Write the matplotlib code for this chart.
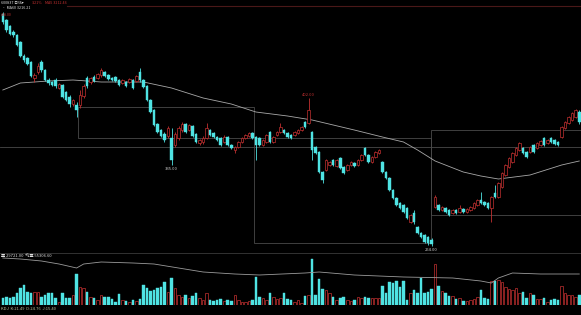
import matplotlib
matplotlib.use('Agg')
import matplotlib.pyplot as plt
from matplotlib.patches import Rectangle
from matplotlib.lines import Line2D

plt.rcParams['font.family'] = ['Noto Sans CJK SC', 'DejaVu Sans']

# ---------------- data ----------------
opens = [486,480,474,468,465,458,444,442,438,422,
         428,438,430,420,418,420,412,415,408,403,
         396,395,395,404,422,418,423,422,425,428,
         425,422,423,420,417,418,418,420,419,428,420,
         414,400,390,376,370,366,364,362,355,362,
         370,376,370,374,366,357,358,362,370,367,
         363,362,358,363,355,350,353,358,362,364,
         367,363,362,355,358,368,358,365,368,370,
         367,365,365,367,370,378,377,368,353,348,
         328,330,335,340,334,342,333,330,335,337,
         335,340,352,345,338,343,347,338,328,322,
         310,302,297,295,292,278,287,273,267,265,
         263,260,293,295,290,292,290,287,290,
         288,291,288,290,292,295,300,298,297,292,
         307,303,313,325,333,338,345,350,352,348,
         348,355,352,355,362,357,362,360,358,363,
         372,377,380,383,388]
closes = [478,470,466,465,455,444,440,436,424,425,
          434,430,420,417,415,414,416,403,400,396,
          400,390,405,414,414,422,419,426,430,424,
          421,420,419,415,420,414,421,412,424,420,413,
          400,388,375,368,364,360,372,340,366,372,
          376,368,375,364,358,360,362,372,365,363,
          360,355,363,355,352,353,358,362,365,367,
          362,355,355,360,365,358,363,368,373,367,
          363,362,368,370,373,373,390,350,347,328,
          320,340,338,335,340,332,327,335,338,334,
          340,345,345,338,343,348,350,328,322,310,
          302,295,292,288,282,285,278,267,263,258,
          257,256,303,290,293,288,285,290,287,
          292,288,291,293,297,300,297,295,292,303,
          303,317,327,335,342,347,352,357,347,343,
          353,348,357,359,355,360,358,356,355,373,
          378,383,387,390,378]
highs = [488,481,475,470,466,459,446,443,439,427,
         437,440,431,422,419,422,417,416,409,405,
         401,398,410,416,424,423,425,427,432,429,
         426,423,424,421,421,419,422,421,425,432,421,
         415,401,391,377,371,368,374,372,368,374,
         378,377,376,375,367,361,364,377,371,368,
         364,363,365,364,356,354,359,363,366,368,
         368,364,363,361,366,369,364,369,377,371,
         368,366,369,371,374,379,402,369,354,349,
         329,341,339,341,341,343,334,336,339,338,
         341,346,353,346,344,349,351,339,329,323,
         311,303,298,296,293,286,290,274,268,266,
         264,262,305,296,294,293,291,291,291,
         295,292,292,294,298,301,308,299,298,304,
         315,318,328,336,343,348,353,358,353,349,
         354,356,358,360,363,361,363,361,359,374,
         379,384,388,391,390]
lows = [476,468,465,463,454,443,438,435,423,418,
        426,428,419,415,414,412,411,402,399,393,
        394,383,392,402,412,416,418,421,423,423,
        420,419,418,414,416,413,417,411,418,418,412,
        399,387,374,367,363,358,362,335,353,360,
        368,367,369,363,357,355,356,361,364,362,
        359,354,357,354,351,347,352,357,361,363,
        361,340,354,354,357,357,357,364,367,366,
        362,361,364,366,369,372,376,340,346,327,
        317,329,334,334,333,331,326,329,334,333,
        334,339,344,337,337,342,346,327,321,309,
        301,294,291,287,281,277,276,266,262,257,
        255,254,292,289,289,287,284,286,286,
        287,287,287,289,291,294,296,294,291,278,
        302,302,312,324,332,337,344,349,346,342,
        347,347,351,354,354,356,357,355,354,362,
        371,376,379,382,376]
volumes = [700,800,700,800,1200,1700,2000,1300,1200,1300,
           1300,800,1000,1200,1200,700,300,1200,700,700,
           1000,3100,1800,1700,1300,800,700,500,1000,800,
           800,600,300,1100,500,400,300,500,400,600,2000,
           1700,1400,1500,1700,1800,2300,1300,2700,1700,1000,
           800,1000,700,900,1200,
           700,500,1200,500,400,500,600,400,500,400,
           1000,500,300,300,400,500,2800,800,700,500,
           1200,800,600,700,1200,600,500,300,500,200,
           900,1000,4600,1000,2600,1600,1500,1200,800,500,
           700,800,500,400,500,800,700,800,700,700,
           700,700,
           1900,1200,2300,2200,2400,1800,2400,500,1200,1500,
           1200,2700,1200,1300,1600,4100,1900,1400,1200,900,
           900,600,700,400,400,500,600,800,1500,
           700,600,2400,2400,2500,2300,1800,1600,1500,1700,
           1200,1300,700,1200,1000,600,600,700,300,500,
           600,500,1900,1200,1000,1000,800,1000]

ma_idx  = [0, 5, 13, 20, 28, 40, 48, 57, 65, 72, 81, 88, 100, 108, 114, 118, 123, 131, 136, 141, 150, 159, 164]
ma_vals = [410, 417, 419, 420, 418, 418, 412, 402, 396, 388, 384, 380, 370, 363, 358, 350, 339, 328, 324, 321, 325, 335, 339]

volma_idx  = [0, 5, 11, 16, 21, 23, 28, 37, 43, 50, 57, 66, 73, 86, 90, 100, 114, 128, 136, 139, 141, 145, 153, 164]
volma_vals = [4700, 4600, 4400, 4100, 3700, 4100, 4300, 4200, 4100, 3700, 3300, 3100, 3000, 3200, 3300, 3000, 2800, 2700, 2400, 2200, 2700, 3200, 3100, 3100]

# consolidation boxes: (start index, end index, low price, high price)
boxes = [(21.4, 71.5, 362, 393), (71.5, 121.8, 257, 362), (121.8, 164.4, 285, 370)]
support_level = 353
label_idx_high = 87
label_idx_lows = [48, 122]

# ---------------- styling ----------------
UP = '#c23030'
DOWN = '#4fe3e3'
BG = 'black'
W, H = 581, 315

fig = plt.figure(figsize=(W / 100, H / 100), dpi=100, facecolor=BG)

def fy(py):
    return 1 - py / H

ax = fig.add_axes([0, fy(252), 1, (252 - 6) / H], facecolor=BG)
axv = fig.add_axes([0, fy(305), 1, (305 - 253) / H], facecolor=BG)
for a in (ax, axv):
    a.set_xlim(-0.8, 164.5)
    a.set_xticks([]); a.set_yticks([])
    for s in a.spines.values():
        s.set_visible(False)
ax.set_ylim(248, 494)
axv.set_ylim(0, 5200)

n = len(opens)
xs = list(range(n))
cols = [UP if closes[i] >= opens[i] else DOWN for i in xs]

# boxes and support line
for (x0, x1, lo, hi) in boxes:
    ax.add_patch(Rectangle((x0, lo), x1 - x0, hi - lo, fill=False,
                           edgecolor='#4a4a4a', lw=0.6, zorder=1))
ax.axhline(support_level, color='#4a4a4a', lw=0.6, zorder=1)

# moving average
ax.plot(ma_idx, ma_vals, color='#a8a8a8', lw=0.6, zorder=2)

# candles
ax.vlines(xs, lows, highs, colors=cols, lw=0.6, zorder=3)
for i in xs:
    lo = min(opens[i], closes[i])
    h = max(abs(closes[i] - opens[i]), 0.8)
    if cols[i] == UP:
        ax.add_patch(Rectangle((i - 0.36, lo), 0.72, h, facecolor=BG,
                               edgecolor=UP, lw=0.5, zorder=4))
    else:
        ax.add_patch(Rectangle((i - 0.36, lo), 0.72, h, facecolor=DOWN,
                               edgecolor=DOWN, lw=0.3, zorder=4))

# extreme labels
ax.text(label_idx_high, highs[label_idx_high] + 1.5, f"{highs[label_idx_high]:.2f}",
        color=UP, fontsize=3, ha='center', va='bottom', zorder=5)
for li in label_idx_lows:
    ax.text(li, lows[li] - 1.5, f"{lows[li]:.2f}", color='#cfcfcf', fontsize=3,
            ha='center', va='top', zorder=5)
ax.text(-0.6, highs[0] - 0.5, f"{highs[0]:.2f}", color=UP, fontsize=2.6,
        ha='left', va='top', zorder=5)

# volume
for i in xs:
    if cols[i] == UP:
        axv.add_patch(Rectangle((i - 0.36, 0), 0.72, volumes[i], facecolor=BG,
                                edgecolor=UP, lw=0.5))
    else:
        axv.add_patch(Rectangle((i - 0.36, 0), 0.72, volumes[i], facecolor=DOWN,
                                edgecolor=DOWN, lw=0.3))
axv.plot(volma_idx, volma_vals, color='#9a9a9a', lw=0.6)

# frame lines
fig.add_artist(Line2D([67 / W, 1], [fy(5.5), fy(5.5)], color='#4a1818', lw=0.8))
fig.add_artist(Line2D([0, 1], [fy(253), fy(253)], color='#3a3a3a', lw=0.6))

# header / footer texts
fig.text(1 / W, fy(2.6), "600837 日线▾", color='#e0e0e0', fontsize=2.7, va='center')
fig.text(32 / W, fy(2.6), "3.21%", color=UP, fontsize=2.7, va='center')
fig.text(45 / W, fy(2.6), "MA5 3212.46", color=UP, fontsize=2.7, va='center')
fig.text(2 / W, fy(7.6), "• MA60 3216.21", color='#e0e0e0', fontsize=2.7, va='center')
fig.text(1 / W, fy(256), "量 29721.00  均量 55306.60", color='#e0e0e0', fontsize=3.0, va='center')
fig.text(1 / W, fy(309), "KDJ  K:21.49  D:24.76  J:15.40", color='#bdbd9a', fontsize=3.0, va='center')

fig.savefig('out.png', dpi=100, facecolor=BG)
